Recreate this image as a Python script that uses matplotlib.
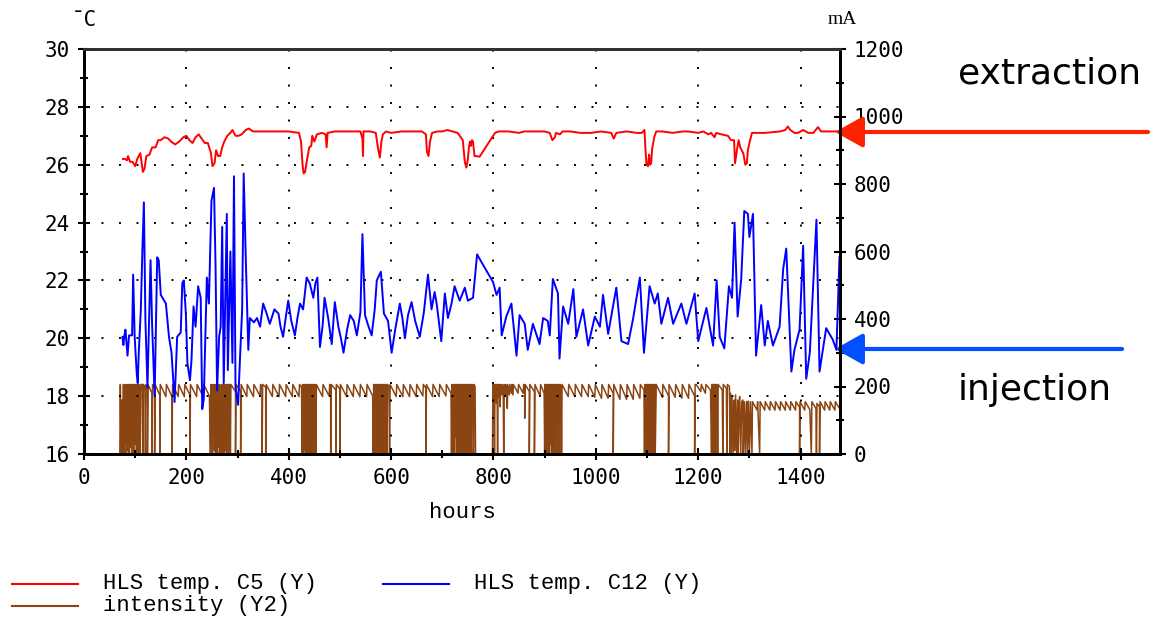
import numpy as np
import matplotlib
matplotlib.use('Agg')
import matplotlib.pyplot as plt
from matplotlib.patches import FancyArrowPatch
from matplotlib.ticker import MultipleLocator

# ---------------------------------------------------------------
# data (hours, value)
# ---------------------------------------------------------------
red_c5 = [
    (76, 26.2), (80, 26.2), (84, 26.15), (86, 26.3), (90, 26.1), (95, 26.1), (100, 25.95),
    (104, 26.2), (110, 26.4), (113, 26.0), (115, 25.75), (118, 25.85), (122, 26.3), (128, 26.35),
    (133, 26.6), (140, 26.6), (145, 26.85), (150, 26.85), (157, 26.95), (165, 26.9), (170, 26.8),
    (178, 26.7), (186, 26.8), (194, 26.95), (200, 27.0), (206, 26.85), (212, 26.75), (218, 26.95),
    (224, 27.05), (230, 26.9), (236, 26.75), (242, 26.75), (248, 26.4), (251, 25.95), (255, 26.05),
    (258, 26.5), (262, 26.3), (266, 26.3), (270, 26.6), (274, 26.8), (280, 27.0), (286, 27.1),
    (290, 27.2), (296, 27.0), (302, 27.0), (308, 27.05), (316, 27.2), (322, 27.25), (330, 27.15),
    (340, 27.15), (360, 27.15), (380, 27.15), (400, 27.15), (420, 27.1), (424, 26.8), (427, 26.0),
    (429, 25.7), (432, 25.75), (435, 26.1), (440, 26.6), (444, 26.65), (446, 27.0), (450, 26.8),
    (455, 27.05), (465, 27.1), (472, 27.05), (474, 26.6), (476, 27.1), (490, 27.15), (510, 27.15),
    (540, 27.15), (544, 26.9), (545, 26.3), (546, 27.15), (560, 27.15), (570, 27.1), (575, 26.5),
    (578, 26.25), (581, 26.8), (584, 27.05), (590, 27.15), (600, 27.1), (620, 27.15), (640, 27.15),
    (660, 27.15), (668, 27.05), (670, 26.45), (673, 26.3), (676, 26.8), (680, 27.1), (690, 27.15),
    (700, 27.15), (710, 27.2), (720, 27.15), (730, 27.1), (740, 26.85), (744, 26.1), (747, 25.9),
    (750, 26.2), (752, 26.6), (754, 26.8), (756, 26.65), (758, 26.85), (760, 26.8), (763, 26.3),
    (773, 26.28), (803, 27.1), (810, 27.15), (830, 27.15), (850, 27.1), (860, 27.15), (880, 27.15),
    (900, 27.15), (910, 27.1), (915, 26.85), (920, 26.95), (922, 27.1), (930, 27.05), (935, 27.15),
    (950, 27.15), (970, 27.1), (990, 27.1), (1010, 27.15), (1030, 27.1), (1035, 26.9), (1040, 27.1),
    (1060, 27.15), (1080, 27.1), (1090, 27.1), (1095, 27.2), (1097, 26.5), (1099, 26.0),
    (1102, 25.95), (1104, 26.35), (1106, 26.0), (1108, 26.05), (1110, 26.55), (1114, 26.95),
    (1118, 27.15), (1130, 27.15), (1150, 27.1), (1170, 27.15), (1180, 27.15), (1200, 27.1),
    (1210, 27.15), (1220, 27.05), (1225, 27.1), (1232, 26.95), (1235, 27.1), (1245, 27.05),
    (1258, 27.0), (1264, 26.85), (1270, 26.85), (1272, 26.05), (1276, 26.55), (1279, 26.85),
    (1282, 26.6), (1288, 26.4), (1292, 26.0), (1295, 26.05), (1297, 26.5), (1300, 26.75),
    (1305, 27.1), (1330, 27.1), (1360, 27.15), (1370, 27.2), (1375, 27.32), (1380, 27.2),
    (1388, 27.1), (1395, 27.1), (1405, 27.2), (1415, 27.1), (1425, 27.1), (1434, 27.3),
    (1440, 27.15), (1460, 27.15), (1476, 27.15),
]

blue_c12 = [
    (75, 20.05), (77, 19.77), (79, 20.1), (81, 20.3), (85, 19.4), (88, 20.1), (94, 20.1), (96, 22.2),
    (99, 20.05), (103, 18.8), (105, 18.45), (107, 19.5), (111, 20.98), (114, 23.0), (117, 24.7),
    (120, 20.6), (124, 18.3), (130, 22.7), (133, 20.5), (138, 18.0), (143, 22.8), (146, 22.7),
    (150, 21.5), (160, 21.2), (166, 20.05), (171, 19.5), (174, 18.65), (177, 17.8), (182, 20.05),
    (189, 20.2), (192, 21.9), (195, 22.0), (199, 20.85), (202, 19.15), (207, 18.55), (210, 19.25),
    (214, 21.1), (218, 20.4), (223, 21.8), (228, 21.4), (231, 17.55), (234, 17.9), (240, 22.1),
    (244, 21.2), (249, 24.75), (254, 25.2), (257, 22.5), (260, 18.2), (264, 20.05), (267, 20.4),
    (270, 23.85), (273, 18.45), (279, 24.3), (281, 18.9), (286, 23.0), (290, 19.15), (293, 25.6),
    (296, 18.3), (301, 17.7), (305, 19.4), (309, 21.0), (312, 25.7), (316, 22.8), (319, 20.85),
    (321, 19.6), (324, 20.7), (332, 20.55), (338, 20.7), (344, 20.4), (350, 21.2), (356, 20.9),
    (363, 20.5), (372, 21.0), (380, 20.85), (384, 20.4), (389, 20.05), (394, 20.7), (399, 21.3),
    (405, 20.6), (412, 20.1), (417, 20.7), (422, 21.2), (428, 21.0), (435, 22.1), (441, 21.9),
    (448, 21.4), (452, 21.9), (456, 22.1), (461, 19.7), (466, 20.4), (470, 21.4), (477, 20.7),
    (484, 19.8), (490, 21.25), (497, 20.4), (502, 20.0), (507, 19.5), (514, 20.3), (520, 20.8),
    (527, 20.6), (533, 20.1), (540, 20.9), (544, 23.6), (549, 20.8), (556, 20.4), (562, 20.1),
    (568, 21.0), (572, 22.0), (580, 22.3), (586, 20.85), (594, 20.6), (601, 19.5), (608, 20.3),
    (617, 21.2), (622, 20.7), (627, 20.0), (633, 20.8), (640, 21.25), (647, 20.6), (656, 20.05),
    (664, 20.9), (672, 22.2), (679, 21.0), (685, 21.6), (689, 21.2), (698, 19.9), (705, 21.55),
    (711, 20.7), (718, 21.2), (724, 21.8), (734, 21.3), (744, 21.75), (750, 21.3), (760, 21.4),
    (768, 22.9), (776, 22.65), (799, 21.95), (806, 21.5), (812, 21.75),
    (816, 20.1), (825, 20.75), (835, 21.2), (845, 19.4), (851, 20.8), (861, 20.5), (867, 19.6),
    (877, 20.5), (890, 19.8), (897, 20.7), (906, 20.6), (910, 20.1), (916, 22.05), (926, 21.55),
    (929, 19.3), (936, 21.1), (946, 20.5), (956, 21.7), (962, 20.05), (975, 21.0), (985, 19.75),
    (998, 20.75), (1008, 20.4), (1014, 21.5), (1024, 20.15), (1040, 21.75), (1050, 19.9),
    (1063, 19.8), (1073, 20.7), (1086, 22.1), (1094, 19.5), (1105, 21.8), (1115, 21.2),
    (1121, 21.55), (1128, 20.5), (1141, 21.4), (1151, 20.5), (1167, 21.2), (1177, 20.5),
    (1193, 21.55), (1200, 19.9), (1216, 21.05), (1229, 19.75), (1236, 22.0), (1242, 20.05),
    (1251, 19.65), (1260, 21.8), (1266, 21.4), (1271, 24.0), (1277, 20.75), (1284, 22.05),
    (1290, 24.4), (1297, 24.3), (1300, 23.5), (1307, 24.3), (1313, 19.4), (1323, 21.15),
    (1330, 19.75), (1336, 20.6), (1346, 19.75), (1359, 20.4), (1366, 22.4), (1372, 23.1),
    (1382, 18.85), (1388, 19.6), (1398, 20.3), (1405, 23.2), (1411, 18.6), (1418, 19.5),
    (1431, 24.1), (1437, 18.85), (1450, 20.35), (1463, 19.95), (1470, 19.6), (1476, 22.8),
]

# beam intensity in mA (right axis)
intensity = [
    (0, 0), (70, 0),
    (70, 0), (71, 206), (72, 40), (73, 0), (74, 160), (75, 20), (76, 0), (77, 206), (78, 50), (79, 0),
    (80, 206), (81, 30), (82, 120), (83, 0), (84, 206), (85, 60), (86, 10), (87, 206), (88, 0),
    (89, 90), (90, 206), (91, 20), (92, 206), (93, 0), (94, 206), (95, 40), (96, 206), (97, 0),
    (98, 206), (99, 190), (100, 30), (101, 206), (102, 0), (104, 206), (105, 200), (106, 0),
    (107, 206), (109, 195), (110, 0), (111, 206), (114, 206), (115, 0), (116, 206), (119, 200),
    (120, 0), (121, 206),
    (124, 195), (124, 0), (125, 206), (133, 180), (133, 0), (134, 206), (138, 195), (138, 0),
    (139, 206), (148, 175), (148, 0), (149, 206), (160, 170), (161, 206), (172, 170), (172, 0),
    (173, 206), (184, 170), (185, 206), (196, 170), (197, 206), (207, 175), (207, 0), (208, 206),
    (220, 170), (221, 206), (233, 170), (234, 206), (245, 172),
    (247, 0), (248, 206), (249, 30), (250, 100), (251, 0), (252, 206), (253, 60), (254, 110),
    (255, 10), (256, 206), (257, 0), (258, 80), (259, 206), (260, 40), (261, 0), (262, 206),
    (263, 100), (264, 20), (265, 206), (266, 0), (267, 150), (268, 30), (269, 206), (270, 0),
    (271, 206), (272, 60), (273, 0), (274, 206), (275, 10), (276, 206), (277, 100), (278, 0),
    (279, 206), (280, 30), (281, 206), (282, 0), (283, 206), (284, 50), (285, 206), (286, 0),
    (287, 206), (296, 185), (296, 0), (297, 206), (306, 185), (306, 0), (307, 206), (318, 170),
    (319, 206), (331, 170), (332, 206), (344, 172), (345, 206), (348, 200), (348, 0), (349, 206),
    (355, 198), (355, 0), (356, 206), (368, 170), (369, 206), (381, 170), (382, 206), (394, 170),
    (395, 206), (407, 170), (408, 206), (420, 170), (421, 206), (425, 198),
    (426, 0), (427, 206), (428, 40), (429, 0), (430, 206), (431, 60), (432, 10), (433, 206),
    (434, 0), (435, 120), (436, 206), (437, 30), (438, 0), (439, 206), (440, 50), (441, 206),
    (442, 0), (443, 206), (444, 20), (445, 206), (446, 0), (447, 206), (448, 60), (449, 206),
    (450, 0), (451, 206), (452, 195), (453, 0), (454, 206),
    (466, 170), (467, 206), (479, 172), (480, 206), (482, 203), (482, 0), (483, 206), (492, 190),
    (492, 0), (493, 206), (500, 192), (500, 0), (501, 206), (513, 170), (514, 206), (526, 170),
    (527, 206), (539, 170), (540, 206), (552, 170), (553, 206), (564, 172),
    (565, 0), (566, 206), (567, 30), (568, 0), (569, 206), (570, 70), (571, 0), (572, 206),
    (573, 20), (574, 206), (575, 0), (576, 130), (577, 206), (578, 0), (579, 206), (580, 40),
    (581, 206), (582, 0), (583, 206), (584, 10), (585, 206), (586, 0), (587, 206), (588, 60),
    (589, 206), (590, 0), (591, 206), (592, 0), (593, 206), (596, 200), (597, 0), (598, 206),
    (610, 170), (611, 206), (623, 170), (624, 206), (636, 170), (637, 206), (649, 170), (650, 206),
    (662, 172), (663, 206), (668, 195), (668, 0), (669, 206), (681, 170), (682, 206), (694, 170),
    (695, 206), (707, 172), (708, 206), (717, 180),
    (718, 0), (719, 206), (720, 30), (721, 0), (722, 206), (723, 100), (724, 0), (725, 206),
    (726, 50), (727, 206), (728, 0), (729, 206), (730, 60), (731, 0), (732, 206), (733, 20),
    (734, 206), (735, 0), (736, 206), (737, 90), (738, 206), (739, 0), (740, 206), (741, 40),
    (742, 206), (743, 0), (744, 206), (745, 10), (746, 206), (747, 0), (748, 206), (749, 150),
    (750, 0), (751, 206), (752, 30), (753, 206), (754, 0), (755, 206), (756, 60), (757, 0),
    (758, 206), (760, 200), (761, 0), (762, 206), (764, 200), (765, 0), (767, 0), (798, 0),
    (799, 206), (800, 160), (801, 206), (802, 0), (803, 206), (804, 180), (805, 206), (806, 150),
    (807, 206), (808, 0), (809, 206), (810, 170), (811, 206), (812, 190), (813, 140), (814, 206),
    (816, 175), (817, 206), (819, 180), (820, 0), (821, 206), (823, 170), (824, 206), (826, 180),
    (827, 135), (828, 206), (831, 175), (832, 206), (835, 180), (836, 206), (838, 175),
    (839, 206), (848, 180), (849, 206), (858, 180), (859, 206), (861, 200), (861, 106), (862, 206),
    (870, 185), (870, 0), (871, 206), (880, 185), (880, 0), (881, 206), (891, 172), (892, 206),
    (899, 180),
    (900, 0), (901, 206), (902, 40), (903, 0), (904, 206), (905, 20), (906, 206), (907, 0),
    (908, 206), (909, 100), (910, 0), (911, 206), (912, 30), (913, 206), (914, 0), (915, 206),
    (916, 60), (917, 0), (918, 206), (919, 10), (920, 206), (921, 0), (922, 206), (923, 50),
    (924, 206), (925, 0), (926, 206), (928, 200), (929, 0), (930, 206), (932, 200), (933, 0),
    (934, 206), (946, 170), (947, 206), (959, 170), (960, 206), (972, 170), (973, 206), (985, 170),
    (986, 206), (998, 168), (999, 206), (1011, 165), (1012, 206), (1024, 165), (1025, 206),
    (1034, 180), (1034, 0), (1035, 206), (1047, 162), (1048, 206), (1060, 162), (1061, 206),
    (1073, 162), (1074, 206), (1086, 165), (1087, 206), (1094, 190),
    (1095, 0), (1096, 206), (1097, 0), (1098, 206), (1099, 50), (1100, 0), (1101, 206), (1102, 20),
    (1103, 206), (1104, 0), (1105, 206), (1106, 0), (1107, 206), (1108, 80), (1109, 0), (1110, 206),
    (1111, 0), (1112, 206), (1113, 30), (1114, 0), (1115, 206), (1116, 0), (1118, 206),
    (1130, 168), (1131, 206), (1142, 172), (1142, 0), (1143, 206), (1155, 168), (1156, 206),
    (1168, 165), (1169, 206), (1181, 165), (1182, 206), (1193, 172), (1193, 0), (1194, 206),
    (1196, 206), (1205, 185), (1206, 206), (1214, 180), (1215, 206), (1224, 190), (1226, 0),
    (1227, 206), (1228, 0), (1229, 206), (1230, 40), (1231, 206), (1232, 0), (1233, 206),
    (1234, 0), (1235, 206), (1236, 60), (1237, 206), (1238, 0), (1239, 206), (1247, 190),
    (1248, 0), (1249, 206), (1255, 195), (1256, 0), (1257, 206), (1261, 200),
    (1262, 0), (1263, 180), (1264, 0), (1266, 170), (1268, 0), (1270, 160), (1271, 10),
    (1273, 175), (1275, 0), (1277, 160), (1278, 0), (1280, 155), (1281, 170), (1283, 0),
    (1285, 155), (1287, 160), (1288, 0), (1290, 155), (1292, 0), (1294, 150),
    (1295, 156), (1296, 0), (1298, 156), (1300, 0), (1302, 155), (1305, 0), (1306, 155),
    (1315, 130), (1316, 155), (1320, 0), (1321, 155), (1330, 130), (1331, 155), (1340, 130),
    (1341, 155), (1350, 130), (1351, 155), (1360, 130), (1361, 155), (1370, 130), (1371, 155),
    (1380, 130), (1381, 155), (1390, 130), (1391, 155), (1398, 138), (1398, 0), (1399, 155),
    (1408, 130), (1409, 155), (1418, 132), (1421, 0), (1422, 155), (1430, 135), (1431, 0),
    (1432, 150), (1437, 140), (1437, 0), (1438, 155), (1447, 130), (1448, 155), (1457, 130),
    (1458, 155), (1467, 130), (1468, 155), (1476, 135),
]

legend_labels = ['HLS temp. C5 (Y)', 'HLS temp. C12 (Y)', 'intensity (Y2)']

red_h, red_v = zip(*red_c5)
blue_h, blue_v = zip(*blue_c12)
int_h, int_v = zip(*intensity)

W, H = 1154, 624
fig = plt.figure(figsize=(W / 100, H / 100), dpi=100)

# axes box in pixels: left 84, right 840, top 49, bottom 454
ax = fig.add_axes([84 / W, 1 - 454 / H, 756 / W, 405 / H])
ax2 = ax.twinx()
ax.set_zorder(ax2.get_zorder() + 1)
ax.patch.set_visible(False)

RED = '#ff0000'
BLUE = '#0000ff'
BROWN = '#8b4513'

ax2.plot(int_h, int_v, color=BROWN, lw=1.1)
ax.plot(blue_h, blue_v, color=BLUE, lw=1.4)
ax.plot(red_h, red_v, color=RED, lw=1.4)

ax.set_xlim(0, 1477)
ax.set_ylim(16, 30)
ax2.set_ylim(0, 1200)

ax.xaxis.set_major_locator(MultipleLocator(200))
ax.xaxis.set_minor_locator(MultipleLocator(100))
ax.yaxis.set_major_locator(MultipleLocator(2))
ax.yaxis.set_minor_locator(MultipleLocator(1))
ax2.yaxis.set_major_locator(MultipleLocator(200))
ax2.yaxis.set_minor_locator(MultipleLocator(100))

for a in (ax, ax2):
    a.tick_params(which='both', direction='inout', width=1.5, color='black')
    a.tick_params(which='major', length=8, pad=6)
    a.tick_params(which='minor', length=6)
    for lab in a.get_xticklabels() + a.get_yticklabels():
        lab.set_fontfamily('DejaVu Sans Mono')
        lab.set_fontsize(15)
    for s in a.spines.values():
        s.set_linewidth(2.0)
        s.set_color('black')
ax.spines['top'].set_color('#333333')

ax.grid(True, which='major', color='black', linestyle=(0, (1, 8)), linewidth=1.4)

ax.set_xlabel('hours', family='Liberation Mono', fontsize=16, labelpad=10)

fig.text(72 / W, 1 - 20 / H, '¯C', family='DejaVu Sans Mono', fontsize=15, va='center')
fig.text(828 / W, 1 - 20 / H, 'mA', family='Liberation Serif', fontsize=14, va='center')

# annotations with arrows on the right
fig.text(958 / W, 1 - 74 / H, 'extraction', family='DejaVu Sans', fontsize=26, va='center')
fig.text(958 / W, 1 - 390 / H, 'injection', family='DejaVu Sans', fontsize=26, va='center')
for y_px, x_px, col in [(132, 1148, '#ff2200'), (349, 1122, '#0050ff')]:
    arr = FancyArrowPatch((x_px / W, 1 - y_px / H), (835 / W, 1 - y_px / H),
                          transform=fig.transFigure,
                          arrowstyle='-|>,head_length=1.7,head_width=0.95',
                          mutation_scale=10, lw=3.0, color=col,
                          shrinkA=0, shrinkB=0)
    fig.add_artist(arr)

# legend drawn by hand under the plot
leg_items = [(584, 12, 103, RED, legend_labels[0]),
             (584, 383, 474, BLUE, legend_labels[1]),
             (606, 12, 103, BROWN, legend_labels[2])]
for y_px, x0, xt, col, txt in leg_items:
    fig.add_artist(plt.Line2D([x0 / W, (x0 + 66) / W], [1 - y_px / H, 1 - y_px / H],
                              transform=fig.transFigure, color=col, lw=1.5))
    fig.text(xt / W, 1 - y_px / H, txt, family='Liberation Mono', fontsize=16, va='center')

fig.savefig('out.png', dpi=100)
